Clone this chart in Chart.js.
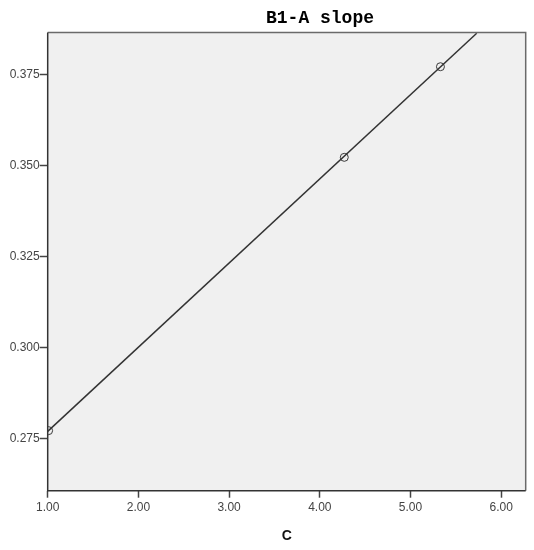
<!DOCTYPE html>
<html>
<head>
<meta charset="utf-8">
<script src="https://cdn.jsdelivr.net/npm/chart.js@4"></script>
<style>
  html, body { margin: 0; padding: 0; background: #fff; }
  #wrap { width: 534px; height: 550px; }
</style>
</head>
<body>
<div id="wrap"><canvas id="slopeChart" width="534" height="550"></canvas></div>
<script>
// observed points
const cValues = [1.01, 4.27, 5.33];
const slopeValues = [0.2771, 0.3522, 0.3771];
// fit line end points
const fitX = [1.0, 5.73];
const fitY = [0.2769, 0.3863];
// tick labels
const xTicks = [1, 2, 3, 4, 5, 6];
const yTicks = [0.275, 0.300, 0.325, 0.350, 0.375];
const chartTitle = 'B1-A slope';
const xTitle = 'C';

// gray plot area + frame
const plotArea = {
    id: 'plotArea',
    beforeDatasetsDraw(chart) {
        const { ctx, chartArea: a } = chart;
        ctx.save();
        ctx.fillStyle = '#f0f0f0';
        ctx.fillRect(a.left, a.top, a.right - a.left, a.bottom - a.top);
        ctx.restore();
    },
    afterDraw(chart) {
        const { ctx, chartArea: a } = chart;
        ctx.save();
        ctx.lineWidth = 1.5;
        ctx.strokeStyle = '#6a6a6a';
        ctx.beginPath();
        ctx.moveTo(a.left, a.top);
        ctx.lineTo(a.right, a.top);
        ctx.lineTo(a.right, a.bottom);
        ctx.stroke();
        ctx.strokeStyle = '#333';
        ctx.beginPath();
        ctx.moveTo(a.left, a.top);
        ctx.lineTo(a.left, a.bottom);
        ctx.lineTo(a.right, a.bottom);
        ctx.stroke();
        // title, set right of centre like the original
        ctx.fillStyle = '#000';
        ctx.font = 'bold 18px "Liberation Mono", "DejaVu Sans Mono", monospace';
        ctx.textAlign = 'center';
        ctx.textBaseline = 'alphabetic';
        ctx.fillText(chartTitle, 320, 23);
        ctx.restore();
    }
};

const ctx = document.getElementById('slopeChart').getContext('2d');
new Chart(ctx, {
    type: 'scatter',
    data: {
        datasets: [{
            label: 'fit',
            data: fitX.map((x, i) => ({ x: x, y: fitY[i] })),
            showLine: true,
            borderColor: '#333',
            borderWidth: 1.5,
            pointRadius: 0,
            fill: false
        }, {
            label: 'slope',
            data: cValues.map((x, i) => ({ x: x, y: slopeValues[i] })),
            showLine: false,
            pointRadius: 4,
            pointStyle: 'circle',
            borderColor: '#3a3a3a',
            borderWidth: 1,
            backgroundColor: 'rgba(0,0,0,0)'
        }]
    },
    options: {
        responsive: false,
        animation: false,
        layout: { padding: { top: 32.5, right: 8.3, left: 0, bottom: 0 } },
        plugins: {
            legend: { display: false },
            tooltip: { enabled: false }
        },
        scales: {
            x: {
                type: 'linear',
                min: 1,
                max: 6.27,
                afterFit: (s) => { s.height = 59.3; },
                afterBuildTicks: (s) => { s.ticks = xTicks.map(v => ({ value: v })); },
                border: { display: false },
                grid: {
                    drawOnChartArea: false,
                    drawTicks: true,
                    tickLength: 7,
                    tickWidth: 1.5,
                    tickColor: '#444'
                },
                ticks: {
                    padding: 3,
                    color: '#444',
                    font: { family: 'Arial, "Liberation Sans", sans-serif', size: 12 },
                    maxRotation: 0,
                    callback: (v) => Number(v).toFixed(2)
                },
                title: {
                    display: true,
                    text: xTitle,
                    color: '#111',
                    font: { family: 'Arial, "Liberation Sans", sans-serif', size: 14, weight: 'bold' },
                    padding: { top: 0, bottom: 5.6 }
                }
            },
            y: {
                type: 'linear',
                min: 0.2606,
                max: 0.3865,
                afterFit: (s) => { s.width = 47.7; },
                afterBuildTicks: (s) => { s.ticks = yTicks.map(v => ({ value: v })); },
                border: { display: false },
                grid: {
                    drawOnChartArea: false,
                    drawTicks: true,
                    tickLength: 8,
                    tickWidth: 1.5,
                    tickColor: '#444'
                },
                ticks: {
                    padding: 0,
                    color: '#444',
                    font: { family: 'Arial, "Liberation Sans", sans-serif', size: 12 },
                    callback: (v) => Number(v).toFixed(3)
                }
            }
        }
    },
    plugins: [plotArea]
});
</script>
</body>
</html>
